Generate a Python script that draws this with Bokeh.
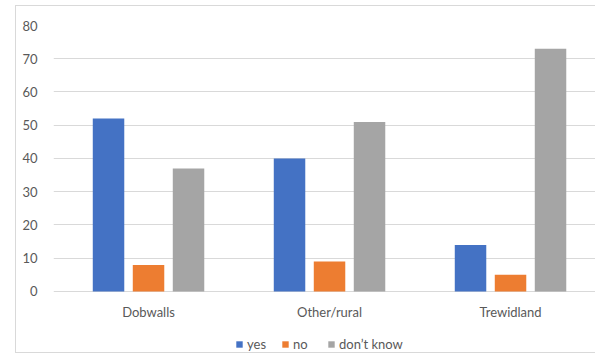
from bokeh.plotting import figure
from bokeh.models import (Range1d, FixedTicker, ColumnDataSource, Legend, LegendItem)
from bokeh.core.properties import value
from bokeh.transform import dodge
from bokeh.embed import file_html
from bokeh.resources import INLINE

# Survey answers per area (percent)
areas = ["Dobwalls", "Other/rural", "Trewidland"]
yes = [52, 40, 14]
no = [8, 9, 5]
dont_know = [37, 51, 73]
y_ticks = [0, 10, 20, 30, 40, 50, 60, 70, 80]

series = [("yes", "yes", "#4472C4", -0.221),
          ("no", "no", "#ED7D31", 0.0),
          ("don\u2019t know", "dk", "#A5A5A5", 0.221)]

src = ColumnDataSource(dict(idx=list(range(len(areas))), area=areas,
                            base=[0] * len(areas),
                            yes=yes, no=no, dk=dont_know))

FONT = "Lato"
TXT = "#595959"
GRID = "#d9d9d9"
FS = "13px"

# the frame runs down to the chart's lower edge so that the category
# labels and the legend sit inside it, below the zero line
p = figure(width=583, height=348, output_backend="svg", toolbar_location=None,
           x_range=Range1d(-0.525, 2.475), y_range=Range1d(-18.65, 80),
           x_axis_location=None,
           min_border_left=37, min_border_right=3, min_border_top=19,
           min_border_bottom=1, margin=(5, 0, 0, 15),
           styles={"border": "1px solid #d9d9d9"})
p.outline_line_color = None

items = []
for name, col, color, off in series:
    r = p.vbar(x=dodge("idx", off, range=p.x_range), top=col, bottom=0,
               width=0.174, source=src, fill_color=color, line_color=None)
    items.append(LegendItem(label=name, renderers=[r]))

# category labels under each group
p.text(x="idx", y="base", text="area", source=src, y_offset=21,
       text_align="center", text_baseline="middle",
       text_font=value(FONT), text_font_size=FS, text_color=TXT)

p.yaxis.ticker = FixedTicker(ticks=y_ticks)
p.yaxis.major_tick_line_color = None
p.yaxis.minor_tick_line_color = None
p.yaxis.axis_line_color = None
p.yaxis.major_label_text_font = FONT
p.yaxis.major_label_text_font_size = FS
p.yaxis.major_label_text_color = TXT
p.yaxis.major_label_standoff = 10

p.xgrid.grid_line_color = None
p.ygrid.grid_line_color = GRID
p.ygrid.ticker = FixedTicker(ticks=y_ticks)

legend = Legend(items=items, orientation="horizontal", location=(182, 1),
                label_text_font=FONT, label_text_font_size=FS,
                label_text_color=TXT, glyph_width=8, glyph_height=8,
                label_height=12, label_standoff=4, spacing=14,
                padding=0, margin=0,
                border_line_color=None, background_fill_alpha=0)
p.add_layout(legend)

open("out.html", "w").write(file_html(p, INLINE))
